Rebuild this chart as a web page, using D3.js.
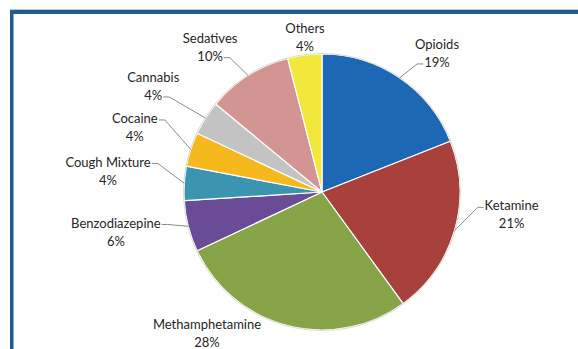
<!DOCTYPE html>
<html>
<head>
<meta charset="utf-8">
<script src="https://cdn.jsdelivr.net/npm/d3@7"></script>
<style>
  html, body { margin: 0; padding: 0; background: #fff; }
  svg { display: block; }
  text { font-family: Lato, "Open Sans", sans-serif; }
</style>
</head>
<body>
<svg id="chart" width="578" height="349"></svg>
<script>
const categories = ["Opioids", "Ketamine", "Methamphetamine", "Benzodiazepine", "Cough Mixture", "Cocaine", "Cannabis", "Sedatives", "Others"];
const values = [19, 21, 28, 6, 4, 4, 4, 10, 4];
const percentLabels = ["19%", "21%", "28%", "6%", "4%", "4%", "4%", "10%", "4%"];
const colors = ["#1c68b4", "#a8413c", "#87a449", "#6a4b95", "#3b95b0", "#f5b81d", "#c3c3c3", "#d29592", "#f1e83b"];

// label layout: [radius from centre, angle nudge in degrees], leader attach line (0 none, 1 first line, 2 second line)
const labelLayout = [[180, 5.5], [191, -9.3], [182, 24.8], [210, 3.4], [215, 2.0], [198, 1.0], [199, -0.4], [183, -5.3], [155, 0.9]];
const leaderAttach = [2, 1, 0, 1, 1, 1, 2, 2, 0];

const svg = d3.select("#chart");
const W = 578, H = 349;

// frame
svg.append("rect").attr("x", 10).attr("y", 9).attr("width", W - 10).attr("height", 1).attr("fill", "#b9c8d8");
svg.append("rect").attr("x", 10).attr("y", 10).attr("width", W - 10).attr("height", 4).attr("fill", "#235a93");
svg.append("rect").attr("x", 10).attr("y", 10).attr("width", 3.5).attr("height", H - 10).attr("fill", "#235a93");

const cx = 322, cy = 192, R = 138;
const g = svg.append("g").attr("transform", `translate(${cx},${cy})`);

const pie = d3.pie().sort(null).value(d => d.value);
const data = categories.map((c, i) => ({ name: c, value: values[i], pct: percentLabels[i], color: colors[i], i }));
const arcs = pie(data);
const arc = d3.arc().innerRadius(0).outerRadius(R);

g.selectAll("path.slice").data(arcs).enter().append("path")
  .attr("class", "slice")
  .attr("d", arc)
  .attr("fill", d => d.data.color)
  .attr("stroke", "#ffffff")
  .attr("stroke-width", 1.2)
  .attr("stroke-linejoin", "round");

g.append("circle").attr("r", R + 0.5).attr("fill", "none").attr("stroke", "#d8dcd0").attr("stroke-width", 1);

const lineH = 18;
arcs.forEach((a, i) => {
  const mid = (a.startAngle + a.endAngle) / 2;
  const [lr, nudge] = labelLayout[i];
  const ang = mid + nudge * Math.PI / 180;
  const lx = lr * Math.sin(ang), ly = -lr * Math.cos(ang);
  const t = g.append("text").attr("text-anchor", "middle").attr("fill", "#262626")
    .attr("font-size", 13).attr("x", lx).attr("y", ly - lineH / 2 + 4.5);
  t.append("tspan").attr("x", lx).text(a.data.name);
  t.append("tspan").attr("x", lx).attr("dy", lineH).text(a.data.pct);

  if (leaderAttach[i]) {
    const spans = t.selectAll("tspan").nodes();
    const bb = spans[leaderAttach[i] - 1].getBBox();
    const ex = R * Math.sin(mid), ey = -R * Math.cos(mid);
    const rightSide = ex > lx;
    const ax = rightSide ? bb.x + bb.width + 1 : bb.x - 1;
    const ay = bb.y + bb.height * 0.62;
    const hx = rightSide ? ax + 6 : ax - 6;
    g.append("path")
      .attr("d", d3.line()([[ax, ay], [hx, ay], [ex, ey]]))
      .attr("fill", "none").attr("stroke", "#8a8a8a").attr("stroke-width", 1);
  }
});
</script>
</body>
</html>
